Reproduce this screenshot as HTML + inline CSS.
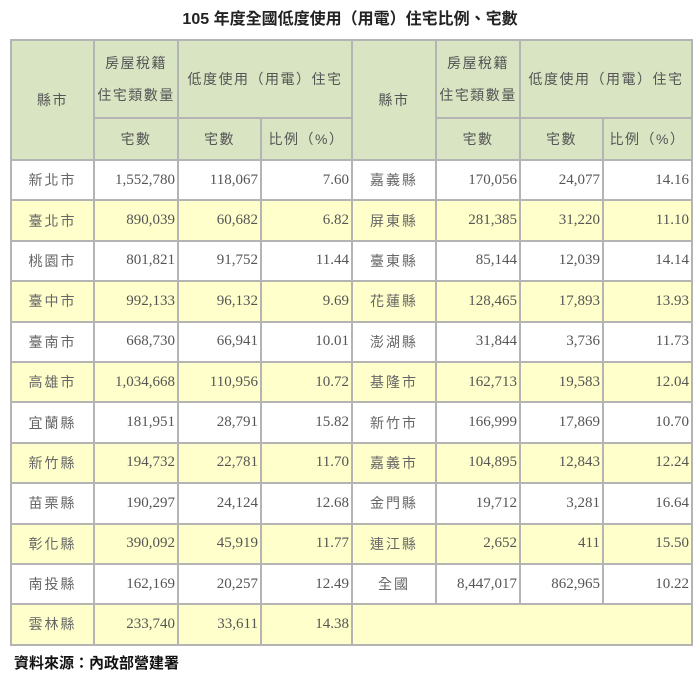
<!DOCTYPE html>
<html><head><meta charset="utf-8"><style>
body{margin:0;width:700px;height:676px;background:#fff;position:relative;overflow:hidden;font-family:"Liberation Serif","Noto Serif CJK SC",serif;}
.t{position:absolute;top:5px;left:0;width:700px;text-align:center;font:bold 16px "Liberation Sans","Noto Sans CJK TC",sans-serif;color:#222;}
table{position:absolute;left:10px;top:39px;border-collapse:collapse;table-layout:fixed;}
td{border:2px solid #b4b4b4;color:#555;font-size:15px;padding:0 2px;white-space:nowrap;}
.h td{background:#d8e4c2;text-align:center;font-family:"Liberation Sans","Noto Sans CJK TC",sans-serif;font-size:14px;color:#555;letter-spacing:1.5px;}
.n{text-align:right;}
.c{text-align:center;font-family:"Liberation Sans","Noto Sans CJK TC",sans-serif;font-size:14px;letter-spacing:2px;color:#666;}
tr.y td{background:#ffffcc;}
tr.d{height:40.4px;}
.s{position:absolute;left:14px;top:652px;font:bold 15px "Liberation Sans","Noto Sans CJK TC",sans-serif;color:#111;}
</style></head><body>
<div class="t">105 年度全國低度使用（用電）住宅比例、宅數</div>
<table>
<colgroup><col style="width:83px"><col style="width:84px"><col style="width:83px"><col style="width:91px"><col style="width:84px"><col style="width:84px"><col style="width:83px"><col style="width:89px"></colgroup>
<tr class="h" style="height:78px"><td rowspan="2">縣市</td><td style="line-height:32px">房屋稅籍<br>住宅類數量</td><td colspan="2">低度使用（用電）住宅</td><td rowspan="2">縣市</td><td style="line-height:32px">房屋稅籍<br>住宅類數量</td><td colspan="2">低度使用（用電）住宅</td></tr>
<tr class="h" style="height:42px"><td>宅數</td><td>宅數</td><td>比例（%）</td><td>宅數</td><td>宅數</td><td>比例（%）</td></tr>
<tr class="d"><td class="c">新北市</td><td class="n">1,552,780</td><td class="n">118,067</td><td class="n">7.60</td><td class="c">嘉義縣</td><td class="n">170,056</td><td class="n">24,077</td><td class="n">14.16</td></tr>
<tr class="d y"><td class="c">臺北市</td><td class="n">890,039</td><td class="n">60,682</td><td class="n">6.82</td><td class="c">屏東縣</td><td class="n">281,385</td><td class="n">31,220</td><td class="n">11.10</td></tr>
<tr class="d"><td class="c">桃園市</td><td class="n">801,821</td><td class="n">91,752</td><td class="n">11.44</td><td class="c">臺東縣</td><td class="n">85,144</td><td class="n">12,039</td><td class="n">14.14</td></tr>
<tr class="d y"><td class="c">臺中市</td><td class="n">992,133</td><td class="n">96,132</td><td class="n">9.69</td><td class="c">花蓮縣</td><td class="n">128,465</td><td class="n">17,893</td><td class="n">13.93</td></tr>
<tr class="d"><td class="c">臺南市</td><td class="n">668,730</td><td class="n">66,941</td><td class="n">10.01</td><td class="c">澎湖縣</td><td class="n">31,844</td><td class="n">3,736</td><td class="n">11.73</td></tr>
<tr class="d y"><td class="c">高雄市</td><td class="n">1,034,668</td><td class="n">110,956</td><td class="n">10.72</td><td class="c">基隆市</td><td class="n">162,713</td><td class="n">19,583</td><td class="n">12.04</td></tr>
<tr class="d"><td class="c">宜蘭縣</td><td class="n">181,951</td><td class="n">28,791</td><td class="n">15.82</td><td class="c">新竹市</td><td class="n">166,999</td><td class="n">17,869</td><td class="n">10.70</td></tr>
<tr class="d y"><td class="c">新竹縣</td><td class="n">194,732</td><td class="n">22,781</td><td class="n">11.70</td><td class="c">嘉義市</td><td class="n">104,895</td><td class="n">12,843</td><td class="n">12.24</td></tr>
<tr class="d"><td class="c">苗栗縣</td><td class="n">190,297</td><td class="n">24,124</td><td class="n">12.68</td><td class="c">金門縣</td><td class="n">19,712</td><td class="n">3,281</td><td class="n">16.64</td></tr>
<tr class="d y"><td class="c">彰化縣</td><td class="n">390,092</td><td class="n">45,919</td><td class="n">11.77</td><td class="c">連江縣</td><td class="n">2,652</td><td class="n">411</td><td class="n">15.50</td></tr>
<tr class="d"><td class="c">南投縣</td><td class="n">162,169</td><td class="n">20,257</td><td class="n">12.49</td><td class="c">全國</td><td class="n">8,447,017</td><td class="n">862,965</td><td class="n">10.22</td></tr>
<tr class="d y"><td class="c">雲林縣</td><td class="n">233,740</td><td class="n">33,611</td><td class="n">14.38</td><td colspan="4"></td></tr>
</table>
<div class="s">資料來源：內政部營建署</div>
</body></html>
